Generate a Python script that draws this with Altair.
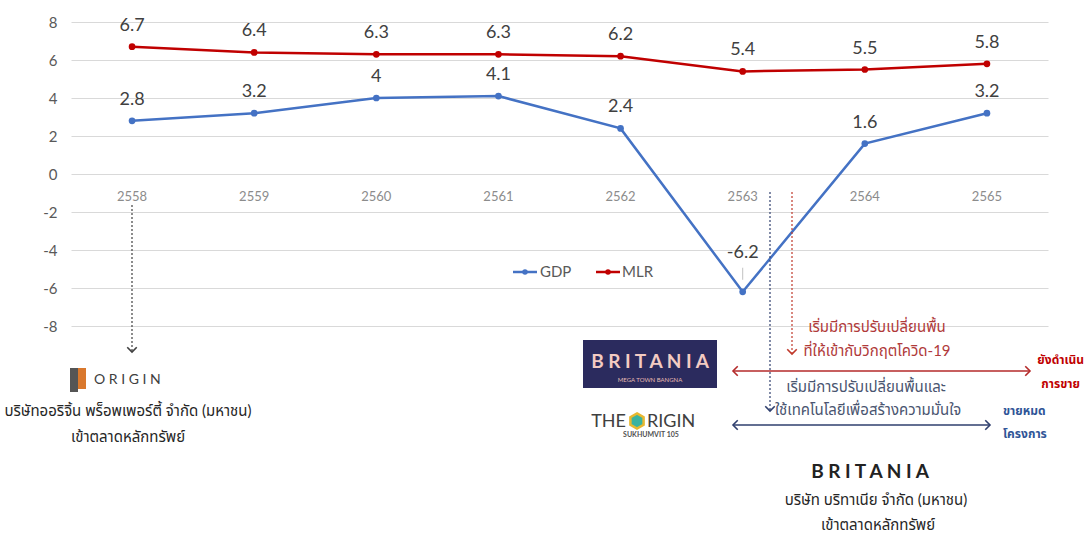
import altair as alt
import pandas as pd

# ---------------- data ----------------
years = ["2558", "2559", "2560", "2561", "2562", "2563", "2564", "2565"]
gdp = [2.8, 3.2, 4, 4.1, 2.4, -6.2, 1.6, 3.2]
mlr = [6.7, 6.4, 6.3, 6.3, 6.2, 5.4, 5.5, 5.8]
series = ["GDP", "MLR"]
series_colors = ["#4472C4", "#C00000"]
y_ticks = [-8, -6, -4, -2, 0, 2, 4, 6, 8]

FONT = "Lato, 'Noto Sans Thai', 'Noto Sans', Tahoma, sans-serif"

df = pd.DataFrame({
    "year": years * 2,
    "value": gdp + mlr,
    "series": ["GDP"] * len(years) + ["MLR"] * len(years),
})
df_years = pd.DataFrame({"year": years})

# ---------------- main chart ----------------
xs = alt.X("year:N", sort=years, scale=alt.Scale(type="point", padding=0.5), axis=None)
ys = alt.Y(
    "value:Q",
    scale=alt.Scale(domain=[-19, 9.158], nice=False, zero=False),
    axis=alt.Axis(values=y_ticks, grid=True, gridColor="#d9d9d9", gridWidth=1,
                  domain=False, ticks=False, labelFontSize=15, labelColor="#595959",
                  labelPadding=14, labelFont=FONT, title=None,
                  labelExpr="'' + datum.value"),
)
col = alt.Color("series:N", scale=alt.Scale(domain=series, range=series_colors), legend=None)

base = alt.Chart(df).transform_calculate(lab="'' + datum.value")
lines = base.mark_line(strokeWidth=2.5).encode(x=xs, y=ys, color=col, detail="series:N")
pts = base.mark_circle(size=45, opacity=1).encode(x=xs, y=ys, color=col)
labels = base.transform_filter("datum.value >= 0").mark_text(
    dy=-21, fontSize=18, color="#404040", font=FONT, baseline="middle"
).encode(x=xs, y=ys, text="lab:N")
neg_labels = base.transform_filter("datum.value < 0").mark_text(
    dy=-39, fontSize=18, color="#404040", font=FONT, baseline="middle"
).encode(x=xs, y=ys, text="lab:N")
leader = base.transform_filter("datum.value < 0").mark_tick(
    orient="vertical", size=12, thickness=1, color="#a6a6a6", yOffset=-18
).encode(x=xs, y=ys)
xlabels = alt.Chart(df_years).transform_calculate(value="-1.21").mark_text(
    fontSize=13, color="#8c8c8c", font=FONT, baseline="middle"
).encode(x=xs, y=alt.Y("value:Q"), text="year:N")

main = alt.layer(lines, pts, labels, neg_labels, leader, xlabels)

# ---------------- annotation layer (page pixel space) ----------------
PX = alt.Scale(domain=[71, 1048], nice=False, zero=False)
PY = alt.Scale(domain=[0, 535], nice=False, zero=False, reverse=True)


def ex(f):
    return alt.X(f + ":Q", scale=PX, axis=None)


def ey(f):
    return alt.Y(f + ":Q", scale=PY, axis=None)


RED = "#b42a2a"
NAVY = "#2f3f6e"

# dotted arrows
dot_x = [132, 770, 792]
dot_y1 = [205, 192, 192]
dot_y2 = [352, 411, 354]
dot_c = ["#404040", NAVY, "#c0392b"]
# solid double arrows
sol_x1 = [733, 733]
sol_x2 = [1030, 990]
sol_y = [371, 425]
sol_c = [RED, NAVY]

dots = pd.DataFrame({"x": dot_x, "y": dot_y1, "y2": dot_y2, "c": dot_c})
sols = pd.DataFrame({"x": sol_x1, "x2": sol_x2, "y": sol_y, "c": sol_c})

heads = pd.DataFrame({
    "x": dot_x + sol_x1 + sol_x2,
    "y": dot_y2 + sol_y + sol_y,
    "ang": [90, 90, 90] + [180, 180] + [0, 0],
    "c": dot_c + sol_c + sol_c,
})

CHEVRON = "M-1,-1L0,0L-1,1"

dot_rules = alt.Chart(dots).mark_rule(strokeDash=[2, 2], strokeWidth=1.2).encode(
    x=ex("x"), y=ey("y"), y2="y2:Q", color=alt.Color("c:N", scale=None))
sol_rules = alt.Chart(sols).mark_rule(strokeWidth=1.6).encode(
    x=ex("x"), x2="x2:Q", y=ey("y"), color=alt.Color("c:N", scale=None))
head_marks = alt.Chart(heads).mark_point(shape=CHEVRON, filled=False, strokeWidth=1.6,
                                         size=90, opacity=1).encode(
    x=ex("x"), y=ey("y"), angle=alt.Angle("ang:Q", scale=None),
    color=alt.Color("c:N", scale=None))

# BRITANIA box and ORIGIN logo blocks
box_x1 = [583, 70, 78]
box_x2 = [717, 78, 86]
box_y1 = [340, 368, 368]
box_y2 = [388, 392, 389]
box_c = ["#2b2b5e", "#555555", "#d9782d"]
boxes = pd.DataFrame({"x": box_x1, "x2": box_x2, "y": box_y1, "y2": box_y2, "c": box_c})
box_marks = alt.Chart(boxes).mark_rect().encode(
    x=ex("x"), x2="x2:Q", y=ey("y"), y2="y2:Q", color=alt.Color("c:N", scale=None))

# hexagon of THE ORIGIN
HEX = "M0,-1L0.87,-0.5L0.87,0.5L0,1L-0.87,0.5L-0.87,-0.5Z"
hexdf = pd.DataFrame({"x": [637], "y": [421]})
hex_mark = alt.Chart(hexdf).mark_point(shape=HEX, filled=True, size=230, color="#3bb3a0",
                                       stroke="#e8b830", strokeWidth=2.5, opacity=1).encode(
    x=ex("x"), y=ey("y"))

# texts: (x, y, text, size, color, align)
t_norm = [
    (877, 327, "เริ่มมีการปรับเปลี่ยนพื้น", 15, "#b03a3a", "center"),
    (877, 351, "ที่ให้เข้ากับวิกฤตโควิด-19", 15, "#b03a3a", "center"),
    (866, 387, "เริ่มมีการปรับเปลี่ยนพื้นและ", 15, "#4a5570", "center"),
    (868, 410, "ใช้เทคโนโลยีเพื่อสร้างความมั่นใจ", 15, "#4a5570", "center"),
    (128, 411, "บริษัทออริจิ้น พร็อพเพอร์ตี้ จำกัด (มหาชน)", 15, "#262626", "center"),
    (128, 437, "เข้าตลาดหลักทรัพย์", 15, "#262626", "center"),
    (876, 500, "บริษัท บริทาเนีย จำกัด (มหาชน)", 15, "#262626", "center"),
    (878, 525, "เข้าตลาดหลักทรัพย์", 15, "#262626", "center"),
    (94, 380, "O R I G I N", 14, "#404040", "left"),
    (626, 422, "THE", 18, "#404040", "right"),
    (647, 422, "RIGIN", 18, "#404040", "left"),
    (650, 380, "MEGA TOWN BANGNA", 6, "#e6bdb3", "center"),
    (540, 272, "GDP", 15, "#595959", "left"),
    (622, 272, "MLR", 15, "#595959", "left"),
]
t_bold = [
    (1084, 360, "ยังดำเนิน", 12, "#c00000", "right"),
    (1080, 384, "การขาย", 12, "#c00000", "right"),
    (1003, 411, "ขายหมด", 12, "#2f5597", "left"),
    (1003, 434, "โครงการ", 12, "#2f5597", "left"),
    (650, 362, "B R I T A N I A", 19, "#f3cbc2", "center"),
    (651, 435, "SUKHUMVIT 105", 7, "#505050", "center"),
    (870, 472, "B R I T A N I A", 19, "#222222", "center"),
]


def text_layer(rows, weight):
    d = pd.DataFrame(rows, columns=["x", "y", "t", "s", "c", "a"])
    layers = []
    for a in ["left", "center", "right"]:
        sub = d[d["a"] == a]
        if len(sub) == 0:
            continue
        layers.append(alt.Chart(sub).mark_text(align=a, baseline="middle", font=FONT,
                                               fontWeight=weight).encode(
            x=ex("x"), y=ey("y"), text="t:N", size=alt.Size("s:Q", scale=None),
            color=alt.Color("c:N", scale=None)))
    return layers


# manual legend (line + dot for each series)
leg_x1 = [513, 596]
leg_x2 = [537, 620]
leg_y = [272, 272]
leg = pd.DataFrame({"x": leg_x1, "x2": leg_x2, "y": leg_y, "series": series})
leg["xm"] = (leg["x"] + leg["x2"]) / 2
leg_col = alt.Color("series:N", scale=alt.Scale(domain=series, range=series_colors), legend=None)
leg_lines = alt.Chart(leg).mark_rule(strokeWidth=2.5).encode(
    x=ex("x"), x2="x2:Q", y=ey("y"), color=leg_col)
leg_pts = alt.Chart(leg).mark_circle(size=30, opacity=1).encode(
    x=ex("xm"), y=ey("y"), color=leg_col)

annot = alt.layer(
    dot_rules, sol_rules, head_marks, box_marks, hex_mark,
    leg_lines, leg_pts,
    *text_layer(t_norm, "normal"), *text_layer(t_bold, "bold"),
)

chart = alt.layer(main, annot).resolve_scale(
    x="independent", y="independent", color="independent"
).properties(
    width=977, height=535,
    padding={"left": 71, "top": 0, "right": 38, "bottom": 0},
    autosize=alt.AutoSizeParams(type="none"),
    background="white",
).configure_view(stroke=None)

chart.save("out.html", embed_options={"renderer": "svg", "actions": False})
